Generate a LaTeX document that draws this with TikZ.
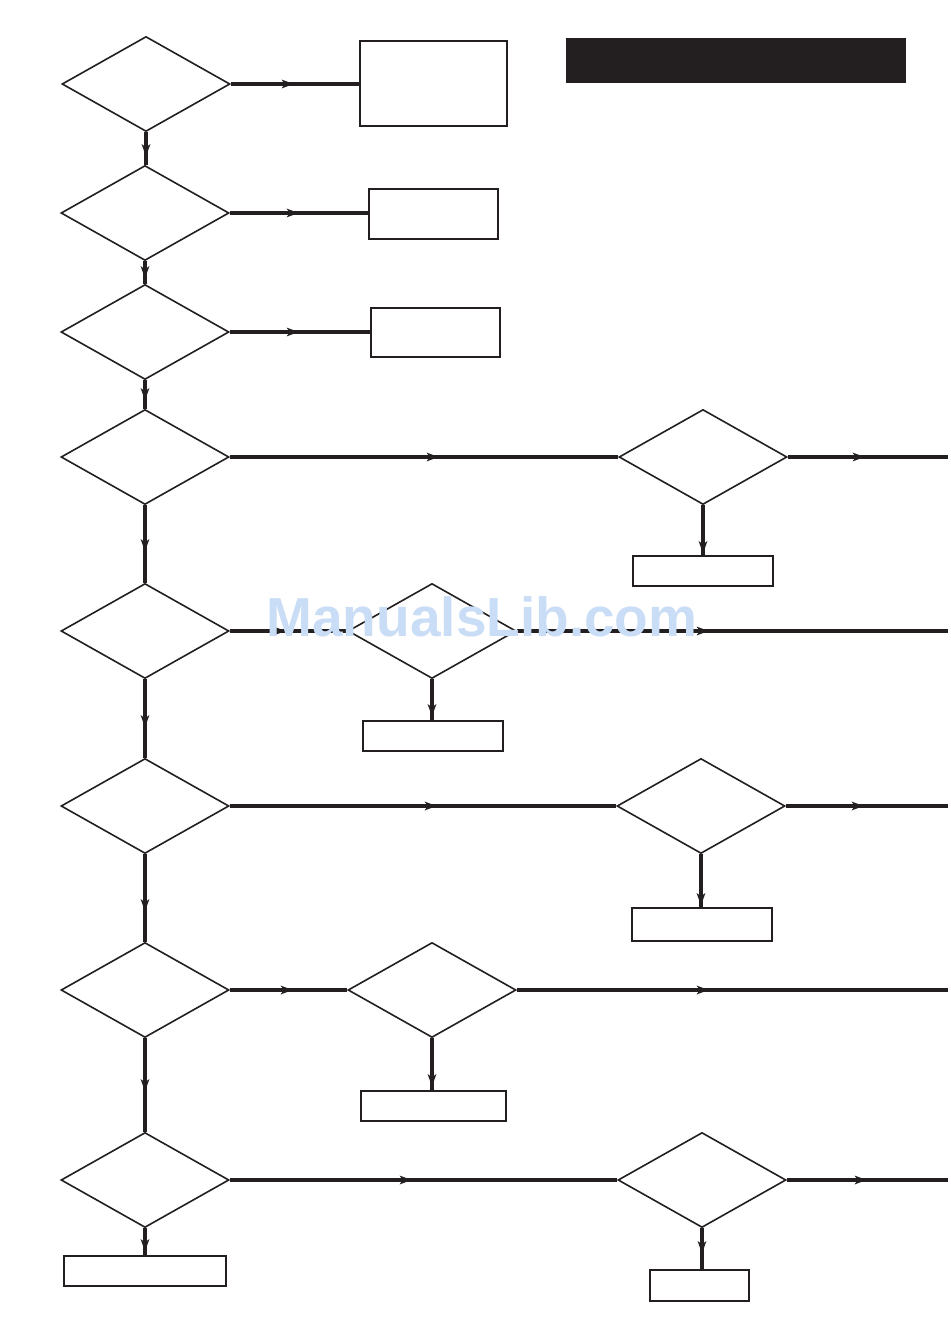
\documentclass[tikz,border=0pt]{standalone}
\usepackage{fontspec}
\newfontfamily\wmfont{Liberation Sans}
\usetikzlibrary{shapes.geometric,decorations.markings,arrows.meta}
\definecolor{ink}{HTML}{231F20}
\definecolor{wm}{HTML}{C9DDF6}
\begin{document}
\begin{tikzpicture}[x=1pt,y=-1pt,
  dec/.style={draw=ink, line width=1.6pt, shape=diamond, minimum width=168pt, minimum height=95pt, inner sep=0pt},
  box/.style={draw=ink, line width=2.1pt, rectangle, inner sep=0pt},
  conn/.style={draw=ink, line width=3.1pt},
  midarr/.style={postaction={decorate}, decoration={markings, mark=at position #1 with {\arrow[ink]{Stealth[length=12pt,width=8.5pt,inset=3pt]}}}}]
\useasboundingbox (0,0) rectangle (950,1343);
\fill[white] (0,0) rectangle (950,1343);
% header bar
\node[fill=ink, inner sep=0pt, minimum width=340pt, minimum height=45pt] (bar) at (736,60.5) {};
% decisions
\node[dec] (d1) at (146,84) {};
\node[dec] (d2) at (145,213) {};
\node[dec] (d3) at (145,332) {};
\node[dec] (d4) at (145,457) {};
\node[dec] (d4b) at (703,457) {};
\node[dec] (d5) at (145,631) {};
\node[dec] (d5b) at (432,631) {};
\node[dec] (d6) at (145,806) {};
\node[dec] (d6b) at (701,806) {};
\node[dec] (d7) at (145,990) {};
\node[dec] (d7b) at (432,990) {};
\node[dec] (d8) at (145,1180) {};
\node[dec] (d8b) at (702,1180) {};
% boxes
\node[box, minimum width=147pt, minimum height=85pt] (b1) at (433.5,83.5) {};
\node[box, minimum width=129pt, minimum height=50pt] (b2) at (433.5,214) {};
\node[box, minimum width=129pt, minimum height=49pt] (b3) at (435.5,332.5) {};
\node[box, minimum width=140pt, minimum height=30pt] (b4) at (703,571) {};
\node[box, minimum width=140pt, minimum height=30pt] (b5) at (433,736) {};
\node[box, minimum width=140pt, minimum height=33pt] (b6) at (702,924.5) {};
\node[box, minimum width=145pt, minimum height=30pt] (b7) at (433.5,1106) {};
\node[box, minimum width=99pt, minimum height=31pt] (b8) at (699.5,1285.5) {};
\node[box, minimum width=162pt, minimum height=30pt] (b9) at (145,1271) {};
% free ends
\coordinate (e4) at (948,457);
\coordinate (e5) at (948,631);
\coordinate (e6) at (948,806);
\coordinate (e7) at (948,990);
\coordinate (e8) at (948,1180);
% connectors
\draw[conn, midarr=63pt] (d1.east) -- (b1.west |- d1.east);
\draw[conn, midarr=69pt] (d2.east) -- (b2.west |- d2.east);
\draw[conn, midarr=69pt] (d3.east) -- (b3.west |- d3.east);
\draw[conn, midarr=24pt] (d1.south) -- (d1.south |- d2.north);
\draw[conn, midarr=17pt] (d2.south) -- (d3.north);
\draw[conn, midarr=20pt] (d3.south) -- (d4.north);
\draw[conn, midarr=46pt] (d4.south) -- (d5.north);
\draw[conn, midarr=48pt] (d5.south) -- (d6.north);
\draw[conn, midarr=57pt] (d6.south) -- (d7.north);
\draw[conn, midarr=53pt] (d7.south) -- (d8.north);
\draw[conn, midarr=23pt] (d8.south) -- (b9.north);
\draw[conn, midarr=209pt] (d4.east) -- (d4b.west);
\draw[conn, midarr=77pt] (d4b.east) -- (e4);
\draw[conn, midarr=48pt] (d4b.south) -- (d4b.south |- b4.north);
\draw[conn, midarr=56pt] (d5.east) -- (d5b.west);
\draw[conn, midarr=192pt] (d5b.east) -- (e5);
\draw[conn, midarr=37pt] (d5b.south) -- (d5b.south |- b5.north);
\draw[conn, midarr=207pt] (d6.east) -- (d6b.west);
\draw[conn, midarr=78pt] (d6b.east) -- (e6);
\draw[conn, midarr=51pt] (d6b.south) -- (d6b.south |- b6.north);
\draw[conn, midarr=63pt] (d7.east) -- (d7b.west);
\draw[conn, midarr=192pt] (d7b.east) -- (e7);
\draw[conn, midarr=48pt] (d7b.south) -- (d7b.south |- b7.north);
\draw[conn, midarr=182pt] (d8.east) -- (d8b.west);
\draw[conn, midarr=80pt] (d8b.east) -- (e8);
\draw[conn, midarr=25pt] (d8b.south) -- (d8b.south |- b8.north);
% watermark
\node[text=wm, font=\wmfont\bfseries\fontsize{55}{60}\selectfont, inner sep=0pt] (wmk) at (482,617) {ManualsLib.com};
\end{tikzpicture}
\end{document}
